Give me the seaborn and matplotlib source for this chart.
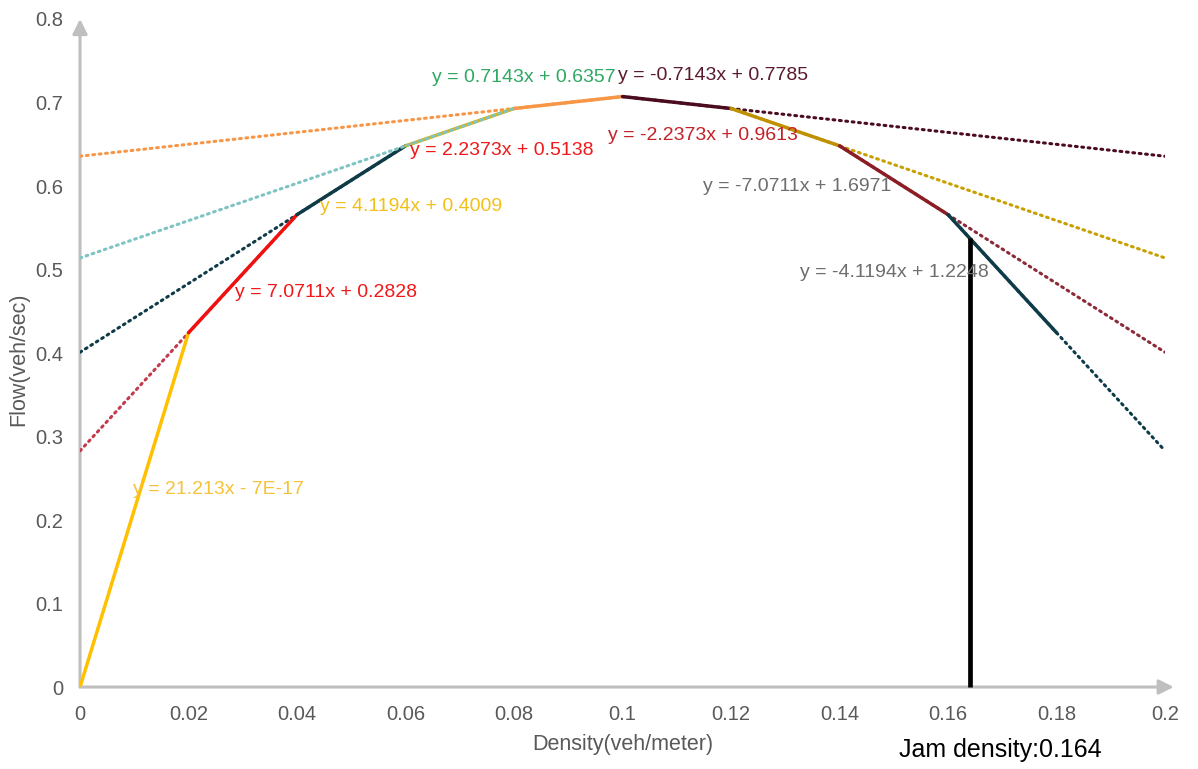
import matplotlib
matplotlib.use("Agg")
import matplotlib.pyplot as plt
import numpy as np
import pandas as pd
import seaborn as sns

# Flow-density points of the piecewise linear fundamental diagram
density = [0.0, 0.02, 0.04, 0.06, 0.08, 0.10, 0.12, 0.14, 0.16, 0.18]
flow = [0.0, 0.4243, 0.5657, 0.6481, 0.6928, 0.7071, 0.6928, 0.6481, 0.5657, 0.4243]

# Linear trendline of each segment (slope, intercept)
slopes = [21.213, 7.0711, 4.1194, 2.2373, 0.7143, -0.7143, -2.2373, -4.1194, -7.0711]
intercepts = [0.0, 0.2828, 0.4009, 0.5138, 0.6357, 0.7785, 0.9613, 1.2248, 1.6971]

# Equation labels as placed on the chart: text, x, y, colour
eq_texts = ["y = 21.213x - 7E-17", "y = 7.0711x + 0.2828", "y = 4.1194x + 0.4009",
            "y = 2.2373x + 0.5138", "y = 0.7143x + 0.6357", "y = -0.7143x + 0.7785",
            "y = -2.2373x + 0.9613", "y = -7.0711x + 1.6971", "y = -4.1194x + 1.2248"]
eq_x = [0.0098, 0.0286, 0.0442, 0.0608, 0.0649, 0.0991, 0.0973, 0.1148, 0.1327]
eq_y = [0.236, 0.473, 0.576, 0.643, 0.730, 0.732, 0.661, 0.599, 0.496]
eq_colors = ["#F5C23A", "#F01818", "#F2C01A", "#F01818", "#2EA862", "#5A1A2C",
             "#C42128", "#6E6E6E", "#6E6E6E"]

x_ticks = [0, 0.02, 0.04, 0.06, 0.08, 0.1, 0.12, 0.14, 0.16, 0.18, 0.2]
x_tick_labels = ["0", "0.02", "0.04", "0.06", "0.08", "0.1", "0.12", "0.14", "0.16", "0.18", "0.2"]
y_ticks = [0, 0.1, 0.2, 0.3, 0.4, 0.5, 0.6, 0.7, 0.8]
y_tick_labels = ["0", "0.1", "0.2", "0.3", "0.4", "0.5", "0.6", "0.7", "0.8"]

jam_density = 0.164

seg_colors = ["#FFC000", "#F01010", "#0E3B47", "#D9B21A", "#F79646",
              "#4A0C1E", "#BF9000", "#8B1E24", "#0E3B47"]
trend_colors = [None, "#C23A4C", "#0E3B47", "#7EC4C2", "#F79646",
                "#4A0C1E", "#C9A000", "#8B2A38", "#0E3B47"]

sns.set_style("white")
plt.rcParams["font.family"] = ["Liberation Sans", "DejaVu Sans"]

fig = plt.figure(figsize=(11.98, 7.69), dpi=100)
ax = fig.add_axes([0.0668, 0.1066, 0.9057, 0.8687])

# Solid segments between consecutive points
rows = []
for i in range(len(density) - 1):
    rows.append({"density": density[i], "flow": flow[i], "seg": i})
    rows.append({"density": density[i + 1], "flow": flow[i + 1], "seg": i})
seg_df = pd.DataFrame(rows)
sns.lineplot(data=seg_df, x="density", y="flow", hue="seg", palette=seg_colors,
             estimator=None, sort=False, legend=False, lw=2.5, ax=ax, zorder=3)

# Dotted trendlines: rising segments extended back to 0, falling ones forward to 0.2
for i in range(1, len(slopes)):
    if slopes[i] > 0:
        xs = np.array([0.0, density[i + 1]])
    else:
        xs = np.array([density[i], 0.2])
    ys = slopes[i] * xs + intercepts[i]
    tdf = pd.DataFrame({"density": xs, "flow": ys})
    z = 4 if i == 3 else 2
    line = sns.lineplot(data=tdf, x="density", y="flow", color=trend_colors[i],
                        lw=2.2, ax=ax, zorder=z, estimator=None, sort=False)
    l = line.lines[-1]
    l.set_linestyle((0, (0.6, 1.5)))
    l.set_dash_capstyle("round")

# Jam density marker
jam_top = slopes[8] * jam_density + intercepts[8]
ax.plot([jam_density, jam_density], [0, jam_top], color="black", lw=3.4,
        zorder=5, clip_on=False, solid_capstyle="butt")

for t, x, y, c in zip(eq_texts, eq_x, eq_y, eq_colors):
    ax.text(x, y, t, color=c, fontsize=14, ha="left", va="center", zorder=6)

ax.set_xlim(0, 0.2)
ax.set_ylim(0, 0.8)
ax.set_xticks(x_ticks)
ax.set_xticklabels(x_tick_labels)
ax.set_yticks(y_ticks)
ax.set_yticklabels(y_tick_labels)
ax.tick_params(axis="both", length=0, labelsize=14.5, labelcolor="#595959")
ax.tick_params(axis="x", pad=13)
ax.tick_params(axis="y", pad=12)
for s in ax.spines.values():
    s.set_visible(False)

ax.set_xlabel("Density(veh/meter)", fontsize=15.5, color="#595959")
ax.set_ylabel("Flow(veh/sec)", fontsize=15.5, color="#595959")
ax.xaxis.set_label_coords(0.5, -0.07)
ax.yaxis.set_label_coords(-0.047, 0.49)

# Axis arrows
arrow = dict(arrowstyle="-|>", color="#BFBFBF", lw=2.2, mutation_scale=22,
             shrinkA=0, shrinkB=0)
ax.annotate("", xy=(1.008, 0), xytext=(0, 0), xycoords="axes fraction",
            arrowprops=arrow, zorder=1, annotation_clip=False)
ax.annotate("", xy=(0, 1.0), xytext=(0, 0), xycoords="axes fraction",
            arrowprops=arrow, zorder=1, annotation_clip=False)

ax.text(0.1696, -0.076, "Jam density:0.164", fontsize=18, color="black",
        ha="center", va="center", clip_on=False)

fig.savefig("out.png", dpi=100)
